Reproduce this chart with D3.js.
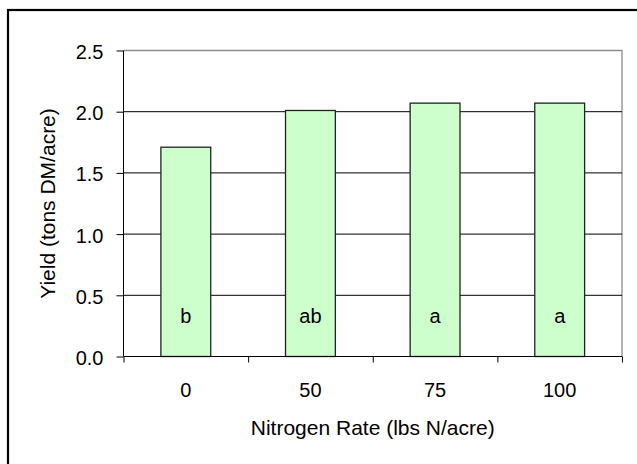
<!DOCTYPE html>
<html><head><meta charset="utf-8">
<script src="https://cdn.jsdelivr.net/npm/d3@7"></script>
<style>
html,body{margin:0;padding:0;background:#fff;}
svg{display:block;}
text{font-family:"Liberation Sans",Arial,sans-serif;fill:#000;}
</style></head>
<body>
<svg id="c" width="637" height="464"></svg>
<script>
const categories = ["0", "50", "75", "100"];
const yields = [1.71, 2.01, 2.07, 2.07];
const letters = ["b", "ab", "a", "a"];
const yTicks = [0.0, 0.5, 1.0, 1.5, 2.0, 2.5];
const xTitle = "Nitrogen Rate (lbs N/acre)";
const yTitle = "Yield (tons DM/acre)";

const svg = d3.select("#c");
const L = 123.5, R = 622, T = 50.5, B = 356.5;

// outer frame
svg.append("rect").attr("x", 8).attr("y", 10).attr("width", 700).attr("height", 600)
  .attr("fill", "none").attr("stroke", "#000").attr("stroke-width", 2.2);

const x = d3.scaleBand().domain(categories).range([L, R]).paddingInner(0.6).paddingOuter(0.3);
const xb = d3.scaleLinear().domain([0, categories.length]).range([L, R]);
const y = d3.scaleLinear().domain([0, 2.5]).range([B, T]);

// plot border (gray top/right)
svg.append("path").attr("d", `M${L},${T}H${R}V${B}`).attr("fill", "none")
  .attr("stroke", "#8c8c8c").attr("stroke-width", 1.3);

// gridlines
svg.append("g").selectAll("line").data(yTicks.filter(d => d > 0 && d < 2.5)).join("line")
  .attr("x1", L).attr("x2", R).attr("y1", d => y(d)).attr("y2", d => y(d))
  .attr("stroke", "#000").attr("stroke-width", 1);

// bars
svg.append("g").selectAll("rect").data(yields).join("rect")
  .attr("x", (d, i) => x(categories[i])).attr("width", x.bandwidth())
  .attr("y", d => y(d)).attr("height", d => B - y(d))
  .attr("fill", "#ccffcc").attr("stroke", "#222").attr("stroke-width", 1.3);

// letters
svg.append("g").selectAll("text").data(letters).join("text")
  .attr("x", (d, i) => x(categories[i]) + x.bandwidth() / 2).attr("y", 323)
  .attr("text-anchor", "middle").style("font-size", "20px").text(d => d);

// y axis
const ya = svg.append("g").attr("transform", `translate(${L},0)`)
  .call(d3.axisLeft(y).tickValues(yTicks).tickFormat(d3.format(".1f")).tickSize(7).tickPadding(13));
ya.select(".domain").attr("stroke", "#000").attr("d", `M0,${T}V${B}`);
ya.selectAll(".tick line").attr("stroke", "#000");
ya.selectAll(".tick text").style("font-size", "20px").attr("font-family", null).attr("dy", "0.4em");

// x axis boundary ticks
const xa = svg.append("g").attr("transform", `translate(0,${B})`)
  .call(d3.axisBottom(xb).tickValues(d3.range(categories.length + 1)).tickFormat("").tickSize(6));
xa.select(".domain").attr("stroke", "#000").attr("d", `M${L},0H${R}`);
xa.selectAll(".tick line").attr("stroke", "#000");

// x labels
const xl = svg.append("g").attr("transform", `translate(0,${B})`)
  .call(d3.axisBottom(x).tickSize(0).tickPadding(0));
xl.select(".domain").remove();
xl.selectAll(".tick text").attr("y", 40).attr("dy", null).style("font-size", "20px").attr("font-family", null);

// titles
svg.append("text").attr("x", (L + R) / 2).attr("y", 435).attr("text-anchor", "middle")
  .style("font-size", "21px").text(xTitle);
svg.append("text").attr("transform", `translate(54.5,${(T + B) / 2}) rotate(-90)`)
  .attr("text-anchor", "middle").style("font-size", "21px").text(yTitle);
</script>
</body></html>
